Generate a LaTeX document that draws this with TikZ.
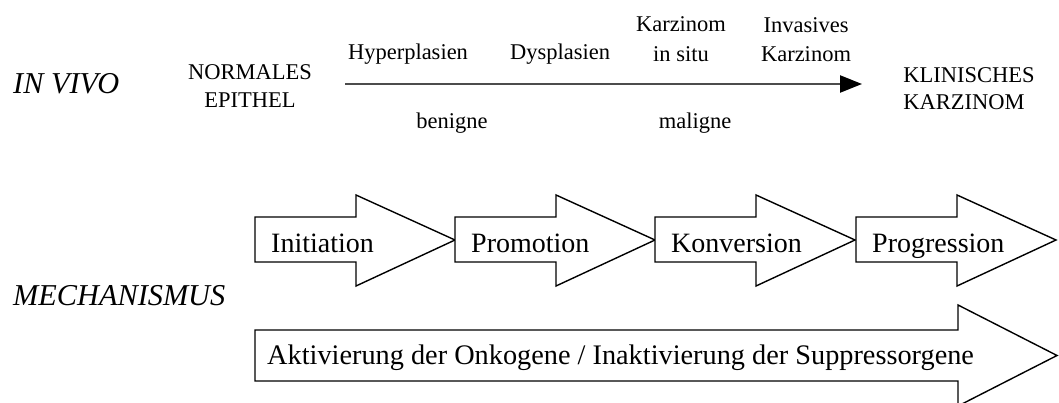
\documentclass[tikz,border=0pt]{standalone}
\usepackage{fontspec}
\setmainfont{Liberation Serif}
\usetikzlibrary{arrows.meta}
\tikzset{
  small/.style={inner sep=0pt, align=center, font=\fontsize{22.5}{29.5}\selectfont},
  label/.style={inner sep=0pt, font=\fontsize{30.3}{34}\selectfont\itshape},
  stagetxt/.style={inner sep=0pt, font=\fontsize{28}{32}\selectfont},
  fatarrow/.style={draw=black, line width=1.4pt, fill=white, line join=miter},
  timeline/.style={draw=black!70, line width=2.4pt, -{Triangle[length=22pt,width=17pt,black]}}
}
\begin{document}
\begin{tikzpicture}[x=1pt,y=-1pt]
\useasboundingbox (0,0) rectangle (1059,403);
\clip (0,0) rectangle (1059,403);
% side labels
\node[label, anchor=base west] (invivo) at (13,94) {IN VIVO};
\node[label, anchor=base west] (mech) at (13,305) {MECHANISMUS};
% in vivo row
\node[small, anchor=base, font=\fontsize{22.5}{28}\selectfont] (normal) at (250,108) {NORMALES\\EPITHEL};
\node[small, anchor=base, align=left, font=\fontsize{22.5}{27}\selectfont] (klin) at (969,110) {KLINISCHES\\KARZINOM};
\coordinate (tlstart) at (345,84);
\coordinate (tlend) at (862,84);
\draw[timeline] (tlstart) -- (tlend);
\node[small, anchor=base] (hyper) at (408,60) {Hyperplasien};
\node[small, anchor=base] (dys) at (560,60) {Dysplasien};
\node[small, anchor=base, font=\fontsize{22.5}{30}\selectfont] (situ) at (681,62) {Karzinom\\in situ};
\node[small, anchor=base, font=\fontsize{22.5}{29}\selectfont] (invas) at (806,62) {Invasives\\Karzinom};
\node[small, anchor=base] (benigne) at (452,129) {benigne};
\node[small, anchor=base] (maligne) at (695,129) {maligne};
% mechanism arrows
\foreach \L/\nm/\txt in {255/init/Initiation, 455/promo/Promotion, 655/konv/Konversion, 856/progr/Progression}{
  \draw[fatarrow] (\L,217) -- (\L+101,217) -- (\L+101,195) -- (\L+200,240) -- (\L+101,286) -- (\L+101,262) -- (\L,262) -- cycle;
  \node[stagetxt, anchor=base west] (\nm) at (\L+16,252) {\txt};
}
\draw[fatarrow] (255,330) -- (958,330) -- (958,305) -- (1057,355.5) -- (958,406) -- (958,381) -- (255,381) -- cycle;
\node[stagetxt, anchor=base west, font=\fontsize{28.3}{32}\selectfont] (akt) at (267,364) {Aktivierung der Onkogene / Inaktivierung der Suppressorgene};
\end{tikzpicture}
\end{document}
